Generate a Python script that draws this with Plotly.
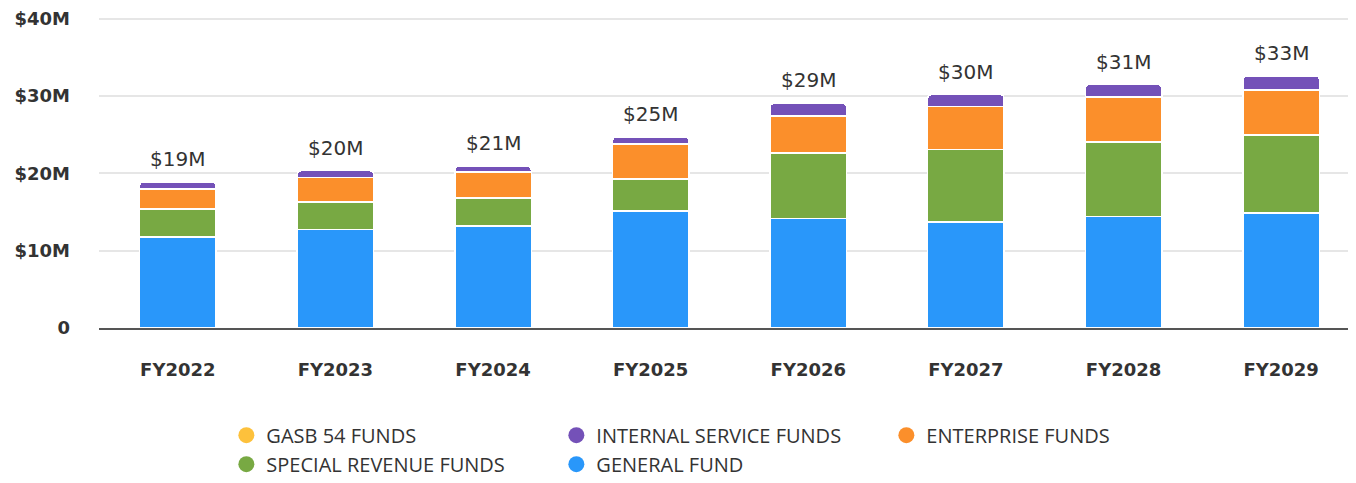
import plotly.graph_objects as go

categories = ["FY2022", "FY2023", "FY2024", "FY2025", "FY2026", "FY2027", "FY2028", "FY2029"]
general_fund = [11.8, 12.75, 13.2, 15.15, 14.15, 13.7, 14.4, 14.9]
special_revenue = [3.6, 3.55, 3.6, 4.1, 8.5, 9.4, 9.7, 10.1]
enterprise = [2.6, 3.15, 3.4, 4.55, 4.8, 5.55, 5.8, 5.8]
internal_service = [0.9, 0.9, 0.7, 0.9, 1.6, 1.55, 1.6, 1.8]
gasb54 = [0, 0, 0, 0, 0, 0, 0, 0]
total_labels = ["$19M", "$20M", "$21M", "$25M", "$29M", "$30M", "$31M", "$33M"]
y_tickvals = [0, 10, 20, 30, 40]
y_ticktext = ["0", "$10M", "$20M", "$30M", "$40M"]

series = [
    ("GENERAL FUND", general_fund, "#2997fa"),
    ("SPECIAL REVENUE FUNDS", special_revenue, "#78a943"),
    ("ENTERPRISE FUNDS", enterprise, "#fb8f2b"),
    ("INTERNAL SERVICE FUNDS", internal_service, "#7451b8"),
    ("GASB 54 FUNDS", gasb54, "#fdc13c"),
]

fig = go.Figure()
for name, vals, color in series:
    if any(v > 0 for v in vals):
        fig.add_trace(go.Bar(
            x=categories, y=vals, name=name, showlegend=False,
            marker=dict(color=color, line=dict(color="white", width=1.5)),
        ))
for name, vals, color in series:
    fig.add_trace(go.Scatter(
        x=[None], y=[None], mode="markers", name=name,
        marker=dict(color=color, size=16, symbol="circle"),
    ))

totals = [sum(t) for t in zip(general_fund, special_revenue, enterprise, internal_service, gasb54)]
for c, t, lab in zip(categories, totals, total_labels):
    fig.add_annotation(x=c, y=t, text=lab, showarrow=False, yanchor="bottom", yshift=9,
                       font=dict(family="DejaVu Sans", size=20, color="#333333"))

fig.update_layout(
    width=1356, height=483,
    barmode="stack", bargap=0.515, barcornerradius=4,
    plot_bgcolor="white", paper_bgcolor="white",
    margin=dict(l=91, r=4, t=7, b=163, autoexpand=False),
    showlegend=True,
    legend=dict(orientation="h", traceorder="reversed", x=0.101, xanchor="left",
                y=-0.28, yanchor="top", entrywidth=285, entrywidthmode="pixels",
                font=dict(family="Open Sans", size=20, color="#333333"),
                itemsizing="trace"),
    xaxis=dict(showline=True, linecolor="#555555", linewidth=2, showgrid=False,
               automargin=False,
               tickfont=dict(family="DejaVu Sans", size=18, color="#333333", weight="bold"),
               ticklabelstandoff=24),
    yaxis=dict(range=[0, 40.5], tickvals=y_tickvals, ticktext=y_ticktext,
               showgrid=True, gridcolor="#e6e6e6", gridwidth=1.5, zeroline=False,
               ticklabeloverflow="allow", automargin=False,
               tickfont=dict(family="DejaVu Sans", size=18, color="#333333", weight="bold"),
               ticklabelstandoff=28),
)

fig.write_html("out.html")
